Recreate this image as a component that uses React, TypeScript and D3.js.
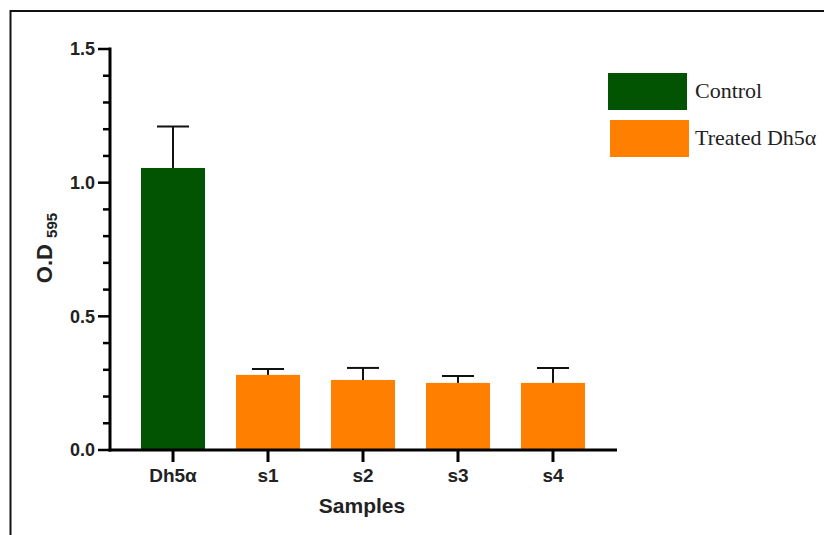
import React, { useEffect, useRef } from "react";
import * as d3 from "d3";

const categories = ["Dh5α", "s1", "s2", "s3", "s4"];
const means = [1.055, 0.281, 0.262, 0.251, 0.251];
const errors = [0.155, 0.022, 0.045, 0.026, 0.056];
const groups = ["Control", "Treated", "Treated", "Treated", "Treated"];
const yTicks = [0, 0.5, 1.0, 1.5];
const legendLabels = ["Control", "Treated Dh5α"];

const colors: Record<string, string> = { Control: "#025402", Treated: "#FF8000" };

export default function App() {
  const ref = useRef<SVGSVGElement>(null);

  useEffect(() => {
    const svg = d3.select(ref.current);
    svg.selectAll("*").remove();

    const W = 824, H = 535;
    const x0 = 110, x1 = 617, y0 = 450, y1 = 49;
    const sans = "Liberation Sans, Arial, sans-serif";

    // frame
    svg.append("line").attr("x1", 10).attr("x2", W).attr("y1", 11).attr("y2", 11)
      .attr("stroke", "#111").attr("stroke-width", 2);
    svg.append("line").attr("x1", 10.5).attr("x2", 10.5).attr("y1", 10).attr("y2", H)
      .attr("stroke", "#111").attr("stroke-width", 2);

    const x = d3.scaleBand().domain(categories).range([141, 585]).paddingInner(0.326).paddingOuter(0);
    const y = d3.scaleLinear().domain([0, 1.5]).range([y0, y1]);

    const g = svg.append("g");

    // bars
    g.selectAll(".bar").data(categories).enter().append("rect")
      .attr("x", d => x(d)!)
      .attr("width", x.bandwidth())
      .attr("y", (d, i) => y(means[i]))
      .attr("height", (d, i) => y0 - y(means[i]))
      .attr("fill", (d, i) => colors[groups[i]]);

    // error bars
    categories.forEach((c, i) => {
      const cx = x(c)! + x.bandwidth() / 2;
      g.append("line").attr("x1", cx).attr("x2", cx)
        .attr("y1", y(means[i])).attr("y2", y(means[i] + errors[i]))
        .attr("stroke", "#111").attr("stroke-width", 2);
      g.append("line").attr("x1", cx - 16).attr("x2", cx + 16)
        .attr("y1", y(means[i] + errors[i])).attr("y2", y(means[i] + errors[i]))
        .attr("stroke", "#111").attr("stroke-width", 2);
    });

    // y axis
    const minor = d3.range(0, 1.501, 0.1).filter(v => Math.abs(v * 2 - Math.round(v * 2)) > 0.01);
    minor.forEach(v => {
      g.append("line").attr("x1", x0 - 7).attr("x2", x0).attr("y1", y(v)).attr("y2", y(v))
        .attr("stroke", "#000").attr("stroke-width", 2.5);
    });
    yTicks.forEach(v => {
      g.append("line").attr("x1", x0 - 12).attr("x2", x0).attr("y1", y(v)).attr("y2", y(v))
        .attr("stroke", "#000").attr("stroke-width", 2.5);
      g.append("text").attr("x", x0 - 15).attr("y", y(v)).attr("dy", "0.36em")
        .attr("text-anchor", "end").attr("font-family", sans)
        .attr("font-weight", "bold").attr("font-size", 18).attr("fill", "#222")
        .text(d3.format(".1f")(v));
    });
    g.append("line").attr("x1", x0).attr("x2", x0).attr("y1", y1 - 1.5).attr("y2", y0 + 1.5)
      .attr("stroke", "#000").attr("stroke-width", 3);

    // x axis
    g.append("line").attr("x1", x0 - 1.5).attr("x2", x1).attr("y1", y0).attr("y2", y0)
      .attr("stroke", "#000").attr("stroke-width", 3);
    categories.forEach(c => {
      const cx = x(c)! + x.bandwidth() / 2;
      g.append("line").attr("x1", cx).attr("x2", cx).attr("y1", y0).attr("y2", y0 + 12)
        .attr("stroke", "#000").attr("stroke-width", 3);
      g.append("text").attr("x", cx).attr("y", 482)
        .attr("text-anchor", "middle").attr("font-family", sans)
        .attr("font-weight", "bold").attr("font-size", 19).attr("fill", "#222").text(c);
    });

    // axis titles
    g.append("text").attr("x", 362).attr("y", 513)
      .attr("text-anchor", "middle").attr("font-family", sans)
      .attr("font-weight", "bold").attr("font-size", 21).attr("fill", "#222").text("Samples");

    const yt = g.append("text").attr("transform", "translate(52,248) rotate(-90)")
      .attr("text-anchor", "middle").attr("font-family", sans)
      .attr("font-weight", "bold").attr("font-size", 22).attr("fill", "#222");
    yt.append("tspan").text("O.D ");
    yt.append("tspan").attr("font-size", 15).attr("dy", 5).text("595");

    // legend
    const lg = svg.append("g");
    legendLabels.forEach((l, i) => {
      const key = i === 0 ? "Control" : "Treated";
      lg.append("rect").attr("x", 608 + i * 2).attr("y", 73 + i * 47).attr("width", 79).attr("height", 37)
        .attr("fill", colors[key]);
      lg.append("text").attr("x", 695).attr("y", 98 + i * 47)
        .attr("font-family", "Liberation Serif, Times New Roman, serif")
        .attr("font-size", 22).attr("fill", "#222").text(l);
    });
  }, []);

  return (
    <svg ref={ref} width={824} height={535} style={{ position: "absolute", left: 0, top: 0, background: "#fff" }} />
  );
}
